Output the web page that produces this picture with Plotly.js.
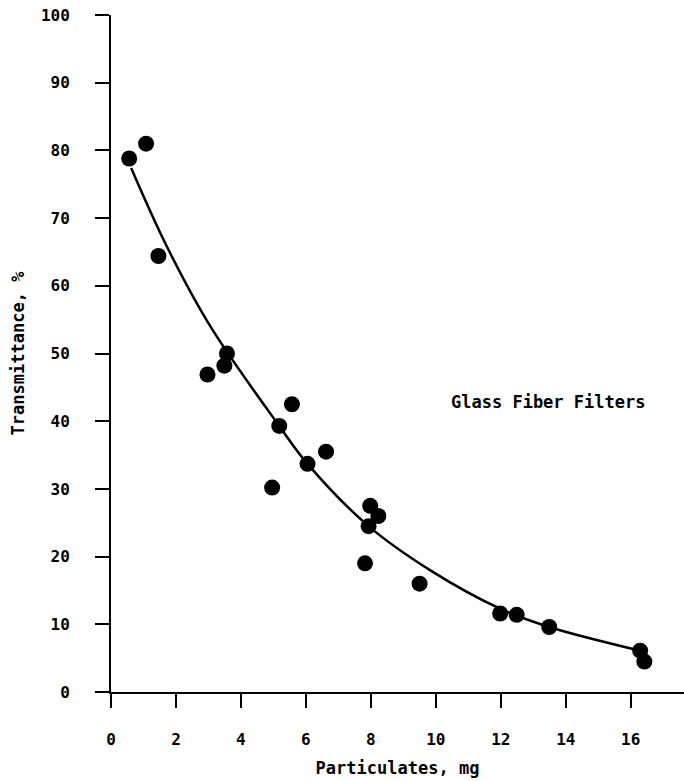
<!DOCTYPE html>
<html>
<head>
<meta charset="utf-8">
<script src="https://cdn.plot.ly/plotly-3.0.1.min.js"></script>
<style>html,body{margin:0;padding:0;background:#fff;}#chart{width:684px;height:781px;}</style>
</head>
<body>
<div id="chart"></div>
<script>
// Measured points
const pointX = [0.56, 1.08, 1.46, 2.97, 3.49, 3.57, 4.96, 5.18, 5.57, 6.05, 6.62, 7.82, 7.93, 7.98, 8.23, 9.50, 11.98, 12.49, 13.49, 16.29, 16.42];
const pointY = [78.8, 81.0, 64.4, 46.9, 48.2, 50.0, 30.2, 39.3, 42.5, 33.7, 35.5, 19.0, 24.5, 27.5, 26.0, 16.0, 11.6, 11.4, 9.6, 6.1, 4.5];

// Fitted curve
const curveX = [0.62, 1.72, 3.06, 5.18, 6.05, 7.93, 9.82, 11.98, 13.49, 16.29];
const curveY = [77.4, 65.8, 54.0, 39.3, 33.7, 24.5, 18.0, 12.3, 9.6, 6.1];

const xTicks = [0, 2, 4, 6, 8, 10, 12, 14, 16];
const yTicks = [0, 10, 20, 30, 40, 50, 60, 70, 80, 90, 100];

const labelText = "Glass Fiber Filters";
const xTitle = "Particulates, mg";
const yTitle = "Transmittance, %";

const fontFam = "DejaVu Sans Mono, monospace";

const traces = [
  {x: curveX, y: curveY, mode: 'lines', type: 'scatter',
   line: {color: '#000', width: 2.5, shape: 'spline', smoothing: 1}, hoverinfo: 'skip'},
  {x: pointX, y: pointY, mode: 'markers', type: 'scatter',
   marker: {color: '#000', size: 16, line: {width: 0}}}
];

const layout = {
  width: 684, height: 781,
  margin: {l: 111, r: 0, t: 15, b: 89},
  showlegend: false,
  paper_bgcolor: '#fff', plot_bgcolor: '#fff',
  font: {family: fontFam, color: '#000', size: 16, weight: 'bold'},
  xaxis: {
    range: [0, 17.64], tickvals: xTicks, ticktext: xTicks.map(String),
    showgrid: false, zeroline: false, showline: true, linecolor: '#000', linewidth: 2,
    ticks: 'outside', ticklen: 14, tickwidth: 2, tickcolor: '#000',
    ticklabelstandoff: 18,
    tickfont: {family: fontFam, size: 16, weight: 'bold'},
    title: {text: xTitle, font: {family: fontFam, size: 17, weight: 'bold'}, standoff: 14}
  },
  yaxis: {
    range: [0, 100], tickvals: yTicks, ticktext: yTicks.map(String),
    showgrid: false, zeroline: false, showline: true, linecolor: '#000', linewidth: 2,
    ticks: 'outside', ticklen: 14, tickwidth: 2, tickcolor: '#000',
    ticklabelstandoff: 22,
    tickfont: {family: fontFam, size: 16, weight: 'bold'},
    title: {text: yTitle, font: {family: fontFam, size: 17, weight: 'bold'}, standoff: 12}
  },
  annotations: [
    {x: 13.46, y: 42.8, xref: 'x', yref: 'y', text: labelText, showarrow: false,
     font: {family: fontFam, size: 17, weight: 'bold', color: '#000'}}
  ]
};

Plotly.newPlot('chart', traces, layout, {displayModeBar: false, staticPlot: true});
</script>
</body>
</html>
